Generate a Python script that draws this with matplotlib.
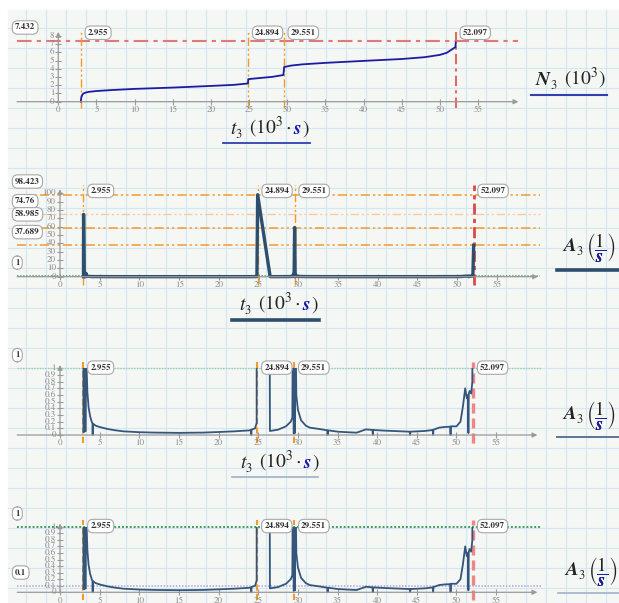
import matplotlib
matplotlib.use('Agg')
import matplotlib.pyplot as plt
from matplotlib.patches import Rectangle

# data (time in 10^3 s)
t_N = [2.955, 2.98, 3.05, 3.15, 3.3, 3.6, 4.0, 5.0, 7.0, 10.0, 15.0, 20.0, 23.0, 24.85,
       24.9, 26.0, 28.0, 29.5, 29.6, 30.5, 32.0, 35.0, 40.0, 45.0, 48.0, 50.0, 50.9,
       52.05, 52.097]
N3 = [0.0, 0.3, 0.65, 0.85, 1.0, 1.12, 1.2, 1.3, 1.42, 1.56, 1.72, 1.92, 2.05, 2.22,
      2.75, 2.85, 3.02, 3.25, 4.22, 4.4, 4.55, 4.73, 4.97, 5.2, 5.42, 5.7, 5.95,
      6.65, 7.2]

t_A = [2.955, 2.97, 3.05, 3.25, 3.28, 3.36, 3.45, 3.6, 3.8, 4.0, 4.1, 4.12, 4.15, 4.5,
       5.0, 6.0, 7.0, 8.0, 10.0, 12.0, 15.0, 18.0, 20.0, 22.0, 24.0, 24.1, 24.12, 24.15,
       24.6, 24.8, 24.894, 26.45, 26.47, 27.5, 28.5, 29.1, 29.3, 29.4, 29.48, 29.551,
       29.62, 29.66, 29.8, 30.0, 30.4, 31.0, 31.5, 32.7, 33.7, 33.75, 33.8, 35.0, 36.5,
       37.4, 38.0, 38.6, 39.4, 39.45, 39.5, 41.0, 43.0, 44.1, 44.15, 44.2, 46.0, 47.0,
       47.05, 47.1, 47.8, 48.5, 49.2, 49.25, 49.3, 50.0, 50.5, 50.8, 51.1, 51.3, 51.45,
       51.5, 51.55, 51.65, 51.85, 52.0, 52.097]
A3 = [0.05, 74.76, 0.05, 0.06, 4.0, 1.0, 0.65, 0.42, 0.28, 0.2, 0.17, 0.0, 0.17, 0.14,
      0.12, 0.09, 0.07, 0.055, 0.042, 0.036, 0.032, 0.036, 0.045, 0.055, 0.07, 0.075, 0.0, 0.08,
      0.1, 0.18, 98.423, 1.2, 0.06, 0.08, 0.13, 0.2, 0.26, 3.0, 0.02, 58.985,
      0.03, 2.0, 0.6, 0.38, 0.22, 0.14, 0.11, 0.09, 0.07, 0.0, 0.07, 0.05, 0.04,
      0.035, 0.06, 0.085, 0.075, 0.0, 0.075, 0.065, 0.055, 0.05, 0.0, 0.05, 0.06, 0.075,
      0.0, 0.08, 0.11, 0.12, 0.125, 0.0, 0.13, 0.13, 0.2, 0.42, 0.7, 0.55, 0.6,
      0.03, 0.62, 0.66, 0.62, 0.8, 37.689]

t_marks = [2.955, 24.894, 29.551, 52.097]
t_labels = ['2.955', '24.894', '29.551', '52.097']
N3_max = 7.432
A3_levels = [98.423, 74.76, 58.985, 37.689]
A3_level_labels = ['98.423', '74.76', '58.985', '37.689']
x_ticks = list(range(0, 60, 5))

W, H = 619, 603
plt.rcParams['mathtext.fontset'] = 'stix'
plt.rcParams['font.family'] = 'STIXGeneral'
fig = plt.figure(figsize=(W / 100, H / 100), dpi=100)

GRAY = '#9a9a9a'
ORANGE = '#f39a2c'
DARK = '#2e4e6e'
BLUE_S = '#1a1aa8'

# worksheet background with grid
bg = fig.add_axes([0, 0, 1, 1])
bg.set_xlim(0, W)
bg.set_ylim(H, 0)
bg.axis('off')
bg.add_patch(Rectangle((8, 10), W - 8, H - 10, color='#f4f7f4', zorder=0))
for gx in range(26, W, 20):
    bg.plot([gx, gx], [10, H], color='#d6e5f2', lw=0.8, zorder=1)
for gy in range(28, H, 20):
    bg.plot([8, W], [gy, gy], color='#d6e5f2', lw=0.8, zorder=1)


def panel(x0, xs, y0, ys, xlim, ylim):
    l = x0 + xlim[0] * xs
    r = x0 + xlim[1] * xs
    b = y0 - ylim[0] * ys
    t = y0 - ylim[1] * ys
    ax = fig.add_axes([l / W, 1 - b / H, (r - l) / W, (b - t) / H])
    ax.set_xlim(xlim)
    ax.set_ylim(ylim)
    ax.axis('off')
    ax.patch.set_alpha(0)
    return ax


def axes_lines(ax, yticks, ylabels, ytop, xend):
    ap = dict(arrowstyle='-|>', color=GRAY, lw=0.9, shrinkA=0, shrinkB=0, mutation_scale=7)
    ax.annotate('', xy=(xend, 0), xytext=(ax.get_xlim()[0], 0), arrowprops=ap, annotation_clip=False)
    ax.annotate('', xy=(0, ytop), xytext=(0, 0), arrowprops=ap, annotation_clip=False)
    ax.plot(x_ticks, [0] * len(x_ticks), ls='none', marker='|', ms=5, mew=0.8, color=GRAY, clip_on=False)
    ax.plot([0] * len(yticks), yticks, ls='none', marker='_', ms=5, mew=0.8, color=GRAY, clip_on=False)
    for xt in x_ticks:
        ax.annotate(str(xt), (xt, 0), xytext=(0, -6), textcoords='offset points',
                    ha='center', va='center', fontsize=6.5, color='#8a8a8a')
    for yt, yl in zip(yticks, ylabels):
        ax.annotate(yl, (0, yt), xytext=(-3, 0), textcoords='offset points',
                    ha='right', va='center', fontsize=6.5, color='#8a8a8a')


BOX = dict(boxstyle='round,pad=0.3,rounding_size=0.6', fc='white', ec='#a8a8a8', lw=0.8)


def tag(ax, text, xy, off):
    ax.annotate(text, xy, xytext=off, textcoords='offset points', ha='left', va='center',
                fontsize=6.5, fontweight='bold', color='#333333', bbox=BOX, annotation_clip=False)


def vmarks(ax, y0, y1, ytag, styles):
    for tm, lab, (c, ls, lw) in zip(t_marks, t_labels, styles):
        ax.plot([tm, tm], [y0, y1], color=c, ls=ls, lw=lw, clip_on=False)
        tag(ax, lab, (tm, ytag), (5, 0))


def hline(ax, y, c, ls, lw, x1):
    ax.plot([ax.get_xlim()[0], x1], [y, y], color=c, ls=ls, lw=lw, clip_on=False)


def left_tag(ax, text, y):
    tag(ax, text, (ax.get_xlim()[0], y), (-1.5, 9.5))


DDOT = (0, (6, 2, 1.5, 2, 1.5, 2))
DASH = (0, (3, 1.5))

# panel 1: N3
ax1 = panel(58.3, 7.63, 101.7, 8.21, (-5.4, 60.3), (-1.2, 8.6))
axes_lines(ax1, list(range(0, 9)), [str(i) for i in range(0, 9)], 8.5, 60.3)
hline(ax1, N3_max, '#e07a7a', (0, (7, 2.5, 2, 2.5)), 1.5, 60.3)
left_tag(ax1, '7.432', N3_max)
vmarks(ax1, -0.8, 8.6, 8.4,
       [(ORANGE, DDOT, 1.0)] * 3 + [('#e06a6a', (0, (5, 2, 1.5, 2)), 1.5)])
ax1.plot(t_N, N3, color='#1c1ca0', lw=1.3, clip_on=False)

# panel 2: A3 full range
ax2 = panel(60, 7.94, 276.7, 0.833, (-5.4, 60.2), (-14, 108))
axes_lines(ax2, list(range(0, 101, 10)), [str(i) for i in range(0, 101, 10)], 105, 60.2)
for lev, lab in zip(A3_levels, A3_level_labels):
    if lab == '74.76':
        hline(ax2, lev, '#f8caa0', DDOT, 1.0, 60.45)
    else:
        hline(ax2, lev, ORANGE, DDOT, 1.1, 60.45)
    left_tag(ax2, lab, lev)
hline(ax2, 1, '#4f9f68', (0, (1, 1)), 1.1, 60.45)
left_tag(ax2, '1', 1)
vmarks(ax2, -10, 110, 103,
       [(ORANGE, DDOT, 1.0)] * 3 + [('#d84a4a', (0, (4, 1.5, 1.5, 1.5)), 2.0)])
ax2.plot(t_A, A3, color=DARK, lw=2.4, clip_on=False)


def clipped_panel(y0, ys, green, green_lw, low=None):
    ax = panel(60, 7.93, y0, ys, (-5.4, 60.2), (-0.15, 1.12))
    ticks = [i / 10 for i in range(11)]
    labels = ['0'] + ['0.%d' % i for i in range(1, 10)] + ['1']
    axes_lines(ax, ticks, labels, 1.05, 60.2)
    hline(ax, 1, green, (0, (1, 1)), green_lw, 60.6)
    left_tag(ax, '1', 1)
    if low is not None:
        hline(ax, low, '#b3a6de', (0, (1, 1)), 1.1, 60.6)
        left_tag(ax, '0.1', low)
    vmarks(ax, -0.12, 1.1, 1.01,
           [(ORANGE, DASH, 1.5)] * 3 + [('#ef8585', DASH, 2.4)])
    line, = ax.plot(t_A, A3, color='#34567c', lw=1.3)
    clip = Rectangle((-5.4, -0.15), 65.6, 1.15, transform=ax.transData)
    line.set_clip_path(clip)
    return ax


ax3 = clipped_panel(435, 66.7, '#92d4a6', 1.0)
ax4 = clipped_panel(592.3, 65.6, '#3f9f60', 1.4, low=0.1)

# rich axis labels
fig.canvas.draw()
rend = fig.canvas.get_renderer()


def rich(x, yb, parts):
    for p in parts:
        t = fig.text(x / W, 1 - (yb - p.get('dy', 0)) / H, p['s'], fontsize=p.get('size', 14),
                     color=p.get('color', '#222222'), fontstyle=p.get('style', 'normal'),
                     fontweight=p.get('weight', 'normal'), ha='left', va='baseline')
        x += t.get_window_extent(rend).width + p.get('gap', 0)
    return x


def t_label(x, yb):
    rich(x, yb, [dict(s='t', style='italic'), dict(s='3', size=9, dy=-4, gap=7),
                 dict(s=r'$(10^3\cdot$', gap=2),
                 dict(s='s', style='italic', weight='bold', color=BLUE_S, gap=1),
                 dict(s=')')])


def a_label(x, yb):
    x = rich(x, yb, [dict(s='A', style='italic', weight='bold'), dict(s='3', size=9, dy=-4, gap=4)])
    frac = r'$\left(\dfrac{1}{\mathbfit{s}}\right)$'
    yc = yb - 4
    t1 = fig.text(x / W, 1 - yc / H, frac, fontsize=13.5, ha='left', va='center', color='#222222')
    t2 = fig.text(x / W, 1 - yc / H, frac, fontsize=13.5, ha='left', va='center', color=BLUE_S)
    bb = t1.get_window_extent(rend)
    # colour only the denominator blue
    t2.set_clip_path(Rectangle((bb.x0 + 0.3 * bb.width, bb.y0), 0.4 * bb.width,
                               0.45 * bb.height, transform=None))


t_label(230, 134)
bg.plot([223, 310], [143, 143], color='#3040b0', lw=1.3)
rich(536, 85, [dict(s='N', style='italic', weight='bold'), dict(s='3', size=9, dy=-4, gap=8),
               dict(s=r'$(10^3)$')])
bg.plot([531, 607], [94.5, 94.5], color='#3040b0', lw=1.5)

t_label(239, 310)
bg.plot([232, 319], [319.5, 319.5], color=DARK, lw=2.6)
a_label(563, 251)
bg.plot([557, 619], [269.5, 269.5], color=DARK, lw=2.6)

t_label(240, 468)
bg.plot([232, 318], [477, 477], color='#9fb2c8', lw=1.2)
a_label(563, 419)
bg.plot([557, 619], [437, 437], color='#5c7594', lw=1.4)

a_label(565, 575)
bg.plot([558, 619], [593, 593], color='#9fb2c8', lw=1.2)

fig.savefig('out.png', dpi=100)
